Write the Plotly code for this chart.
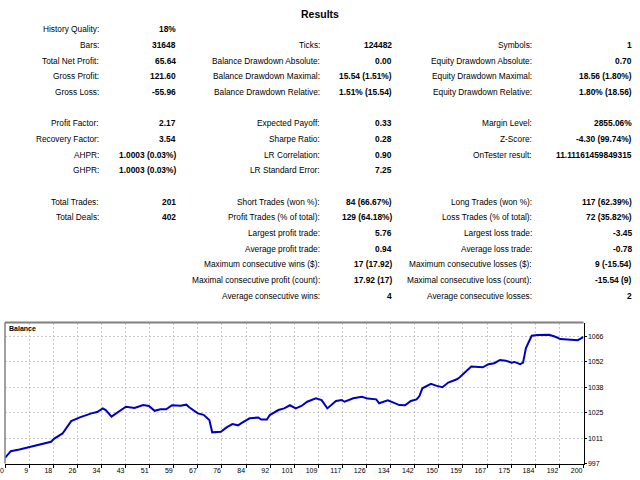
import plotly.graph_objects as go

# balance curve (trade number, balance)
trade_no = [0, 2, 5, 9, 12, 16, 17, 20, 23, 26, 30, 32, 34, 35, 37, 40, 42, 45, 48, 50,
            52, 54, 56, 58, 61, 63, 64, 67, 69, 71, 72, 75, 77, 79, 81, 82, 85, 88, 89, 91,
            92, 95, 97, 99, 101, 103, 105, 108, 110, 112, 115, 117, 118, 121, 124, 126, 129, 130, 133, 135,
            137, 139, 141, 143, 144, 145, 148, 150, 152, 154, 157, 158, 161, 162, 166, 168, 170, 172, 174, 176,
            177, 179, 180, 181, 183, 185, 189, 191, 193, 198, 199, 200, 201]
balance = [1000.0, 1003.7, 1004.6, 1006.0, 1007.1, 1008.8, 1010.4, 1013.3, 1020.0, 1022.0,
           1024.2, 1024.9, 1026.9, 1026.0, 1022.4, 1025.6, 1027.8, 1027.1, 1028.7, 1028.2,
           1025.6, 1026.4, 1026.4, 1028.6, 1028.3, 1028.9, 1027.5, 1024.2, 1023.4, 1020.6,
           1013.9, 1014.2, 1016.6, 1018.4, 1017.7, 1018.8, 1021.5, 1022.0, 1020.9, 1020.9,
           1023.3, 1026.0, 1026.9, 1028.6, 1026.9, 1028.2, 1030.5, 1032.4, 1031.4, 1026.9,
           1030.9, 1031.4, 1030.5, 1032.4, 1033.2, 1032.2, 1031.8, 1029.7, 1031.3, 1030.0,
           1028.7, 1028.6, 1030.9, 1031.8, 1033.6, 1037.8, 1040.2, 1039.1, 1038.4, 1040.9,
           1042.7, 1043.8, 1048.2, 1049.6, 1049.2, 1050.9, 1051.4, 1053.2, 1052.8, 1051.7,
           1052.1, 1050.9, 1051.7, 1059.6, 1066.3, 1066.7, 1066.8, 1065.9, 1064.5, 1064.3,
           1063.9, 1064.8, 1065.64]

total_trades = 201
x_labels = ["0", "9", "18", "26", "34", "43", "51", "59", "67", "76", "84", "92", "101",
            "109", "117", "126", "134", "142", "150", "159", "167", "175", "184", "192", "200"]
y_labels = ["997", "1011", "1025", "1038", "1052", "1066"]
y_min, y_step, y_top = 997, 13.8, 1073.5

# report table, one entry per row (None = empty)
col1_labels = ["History Quality:", "Bars:", "Total Net Profit:", "Gross Profit:", "Gross Loss:", None,
               "Profit Factor:", "Recovery Factor:", "AHPR:", "GHPR:", None,
               "Total Trades:", "Total Deals:"]
col1_values = ["18%", "31648", "65.64", "121.60", "-55.96", None,
               "2.17", "3.54", "1.0003 (0.03%)", "1.0003 (0.03%)", None,
               "201", "402"]
col2_labels = [None, "Ticks:", "Balance Drawdown Absolute:", "Balance Drawdown Maximal:",
               "Balance Drawdown Relative:", None, "Expected Payoff:", "Sharpe Ratio:",
               "LR Correlation:", "LR Standard Error:", None, "Short Trades (won %):",
               "Profit Trades (% of total):", "Largest profit trade:", "Average profit trade:",
               "Maximum consecutive wins ($):", "Maximal consecutive profit (count):",
               "Average consecutive wins:"]
col2_values = [None, "124482", "0.00", "15.54 (1.51%)", "1.51% (15.54)", None, "0.33", "0.28",
               "0.90", "7.25", None, "84 (66.67%)", "129 (64.18%)", "5.76", "0.94",
               "17 (17.92)", "17.92 (17)", "4"]
col3_labels = [None, "Symbols:", "Equity Drawdown Absolute:", "Equity Drawdown Maximal:",
               "Equity Drawdown Relative:", None, "Margin Level:", "Z-Score:", "OnTester result:",
               None, None, "Long Trades (won %):", "Loss Trades (% of total):", "Largest loss trade:",
               "Average loss trade:", "Maximum consecutive losses ($):",
               "Maximal consecutive loss (count):", "Average consecutive losses:"]
col3_values = [None, "1", "0.70", "18.56 (1.80%)", "1.80% (18.56)", None, "2855.06%",
               "-4.30 (99.74%)", "11.11161459849315", None, None, "117 (62.39%)", "72 (35.82%)",
               "-3.45", "-0.78", "9 (-15.54)", "-15.54 (9)", "2"]

W, H = 640, 480
FONT = "Liberation Sans"

fig = go.Figure()
fig.add_trace(go.Scatter(x=trade_no, y=balance, mode="lines",
                         line=dict(color="#0000c0", width=2), showlegend=False,
                         hoverinfo="x+y"))

annotations = [dict(text="<b>Results</b>", x=320 / W, y=1 - 14 / H, xref="paper", yref="paper",
                    showarrow=False, xanchor="center", yanchor="middle",
                    font=dict(family=FONT, size=10.5, color="black"))]

columns = [(col1_labels, col1_values, 101, 177.5),
           (col2_labels, col2_values, 321.5, 394),
           (col3_labels, col3_values, 533.5, 633.5)]
for labels, values, lab_x, val_x in columns:
    for i, (lab, val) in enumerate(zip(labels, values)):
        py = 29.5 + 15.65 * i
        if lab:
            annotations.append(dict(text=lab, x=lab_x / W, y=1 - py / H, xref="paper", yref="paper",
                                    showarrow=False, xanchor="right", yanchor="middle",
                                    font=dict(family=FONT, size=8.3, color="black")))
        if val:
            annotations.append(dict(text="<b>" + val + "</b>", x=val_x / W, y=1 - py / H,
                                    xref="paper", yref="paper", showarrow=False,
                                    xanchor="right", yanchor="middle",
                                    font=dict(family=FONT, size=8.4, color="black")))

annotations.append(dict(text="<b>Balance</b>", x=0.003, y=0.995, xref="x domain", yref="y domain",
                        showarrow=False, xanchor="left", yanchor="top",
                        font=dict(family=FONT, size=7, color="black")))

x_ticks = [k * total_trades / (len(x_labels) - 1) for k in range(len(x_labels))]
y_ticks = [y_min + k * y_step for k in range(len(y_labels))]

fig.update_layout(
    width=W, height=H,
    margin=dict(l=0, r=0, t=0, b=0, autoexpand=False),
    paper_bgcolor="white", plot_bgcolor="white",
    annotations=annotations,
    xaxis=dict(domain=[5 / W, 583.5 / W], range=[0, total_trades], automargin=False,
               tickvals=x_ticks, ticktext=x_labels, ticklabelposition="outside left",
               showgrid=True, gridcolor="#c8c8c8", griddash="2px,2px", gridwidth=1,
               showline=True, linecolor="black", linewidth=1,
               ticks="outside", ticklen=3, tickcolor="black",
               tickfont=dict(family=FONT, size=7, color="black"), zeroline=False),
    yaxis=dict(domain=[1 - 463.5 / H, 1 - 322.5 / H], range=[y_min, y_top], side="right",
               automargin=False, tickvals=y_ticks, ticktext=y_labels,
               showgrid=True, gridcolor="#c8c8c8", griddash="2px,2px", gridwidth=1,
               showline=True, linecolor="black", linewidth=1,
               ticks="outside", ticklen=2, tickcolor="black",
               tickfont=dict(family=FONT, size=7, color="black"), zeroline=False),
    shapes=[
        dict(type="line", xref="x domain", yref="y domain", x0=0, x1=1, y0=1, y1=1,
             line=dict(color="#808080", width=2)),
        dict(type="line", xref="x domain", yref="y domain", x0=0, x1=0, y0=0, y1=1,
             line=dict(color="#808080", width=1.5)),
    ],
)

config = dict(displayModeBar=False, displaylogo=False)

# drop the browser's default page margin so the figure fills the window
fig.write_html("out.html", config=config,
               post_script="document.body.style.margin='0';document.body.style.overflow='hidden';")
